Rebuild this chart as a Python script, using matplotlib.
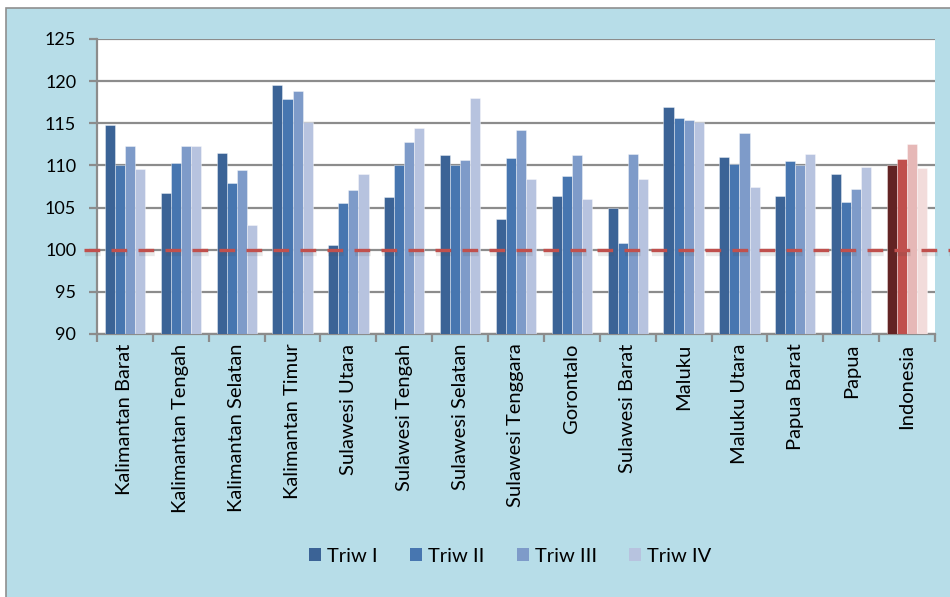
import matplotlib
matplotlib.use("Agg")
import matplotlib.pyplot as plt
import matplotlib.patheffects as pe
from matplotlib.patches import Rectangle, Patch
import numpy as np

plt.rcParams['font.family'] = ['Lato', 'DejaVu Sans']

categories = ["Kalimantan Barat", "Kalimantan Tengah", "Kalimantan Selatan",
              "Kalimantan Timur", "Sulawesi Utara", "Sulawesi Tengah",
              "Sulawesi Selatan", "Sulawesi Tenggara", "Gorontalo",
              "Sulawesi Barat", "Maluku", "Maluku Utara", "Papua Barat",
              "Papua", "Indonesia"]
series_names = ["Triw I", "Triw II", "Triw III", "Triw IV"]
triw1 = [114.8, 106.7, 111.5, 119.6, 100.5, 106.3, 111.2, 103.7, 106.4, 104.9, 116.9, 111.0, 106.4, 109.0, 110.1]
triw2 = [110.0, 110.3, 107.9, 117.9, 105.6, 110.0, 110.1, 110.9, 108.7, 100.8, 115.6, 110.2, 110.5, 105.7, 110.8]
triw3 = [112.3, 112.3, 109.4, 118.8, 107.1, 112.8, 110.7, 114.2, 111.2, 111.3, 115.4, 113.9, 110.1, 107.2, 112.5]
triw4 = [109.6, 112.3, 102.9, 115.2, 109.0, 114.4, 118.0, 108.4, 106.0, 108.4, 115.1, 107.4, 111.4, 109.8, 109.7]
reference_level = 100
yticks = [90, 95, 100, 105, 110, 115, 120, 125]

blue_colors = ["#3B6396", "#4776B0", "#7E9BC9", "#B7C3DF"]
national_colors = ["#632323", "#C0504D", "#E6B8B7", "#F2DCDB"]

bg = "#B7DDE8"
grid_c = "#8C8C8C"

fig = plt.figure(figsize=(9.5, 5.97), dpi=100, facecolor="white")
W, H = 950, 597

# light-blue chart panel with a thin grey frame on the top and left
panel = Rectangle((6 / W, -0.05), 1.0, 1.05 - 8 / H, transform=fig.transFigure,
                  facecolor=bg, edgecolor="#8F8F8F", linewidth=1.2, zorder=-10)
fig.patches.append(panel)

ax = fig.add_axes([97 / W, 1 - 334 / H, (935 - 97) / W, (334 - 39) / H])
ax.set_zorder(1)
ax.set_facecolor("white")

x = np.arange(len(categories))
bw = 0.18
series = [triw1, triw2, triw3, triw4]
for i, vals in enumerate(series):
    offs = (i - 1.5) * bw
    cols = [blue_colors[i]] * (len(categories) - 1) + [national_colors[i]]
    ax.bar(x + offs, np.array(vals) - 90, bw, bottom=90, color=cols,
           edgecolor=(1, 1, 1, 0.45), linewidth=0.6, zorder=3)

ax.set_xlim(-0.5, len(categories) - 0.5)
ax.set_ylim(90, 125)
ax.set_yticks(yticks)
ax.yaxis.grid(True, color=grid_c, linewidth=1.6, zorder=1)
ax.set_axisbelow(True)

# dashed reference line at 100, running slightly past the plot area
ax.axhline(reference_level, xmin=(84 - 97) / 838, xmax=(950 - 97) / 838,
           color="#C0504D", linewidth=2.4, clip_on=False, zorder=5,
           linestyle=(0, (4.7, 3.4)),
           path_effects=[pe.SimpleLineShadow(offset=(0.5, -2.5), shadow_color="#444444", alpha=0.12, linewidth=4.5),
                         pe.Normal()])

for side in ["top", "right"]:
    ax.spines[side].set_visible(False)
for side in ["left", "bottom"]:
    ax.spines[side].set_color(grid_c)
    ax.spines[side].set_linewidth(1.6)

ax.set_xticks(x)
ax.set_xticklabels(categories, rotation=90, fontsize=14.5)
ax.set_xticks(np.arange(-0.5, len(categories)), minor=True)
ax.tick_params(axis="x", which="major", length=0, pad=7)
ax.tick_params(axis="x", which="minor", length=6, width=1.6, color=grid_c)
ax.tick_params(axis="y", length=6, width=1.6, color=grid_c, labelsize=13, pad=9)

handles = [Patch(facecolor=c, edgecolor="none") for c in blue_colors]
fig.legend(handles, series_names, loc="center", bbox_to_anchor=(0.537, 1 - 556 / H),
           ncol=4, frameon=False, fontsize=14.5, handlelength=0.6, handleheight=0.6,
           handletextpad=0.3, columnspacing=1.6)

fig.savefig("out.png", dpi=100, facecolor=fig.get_facecolor())
